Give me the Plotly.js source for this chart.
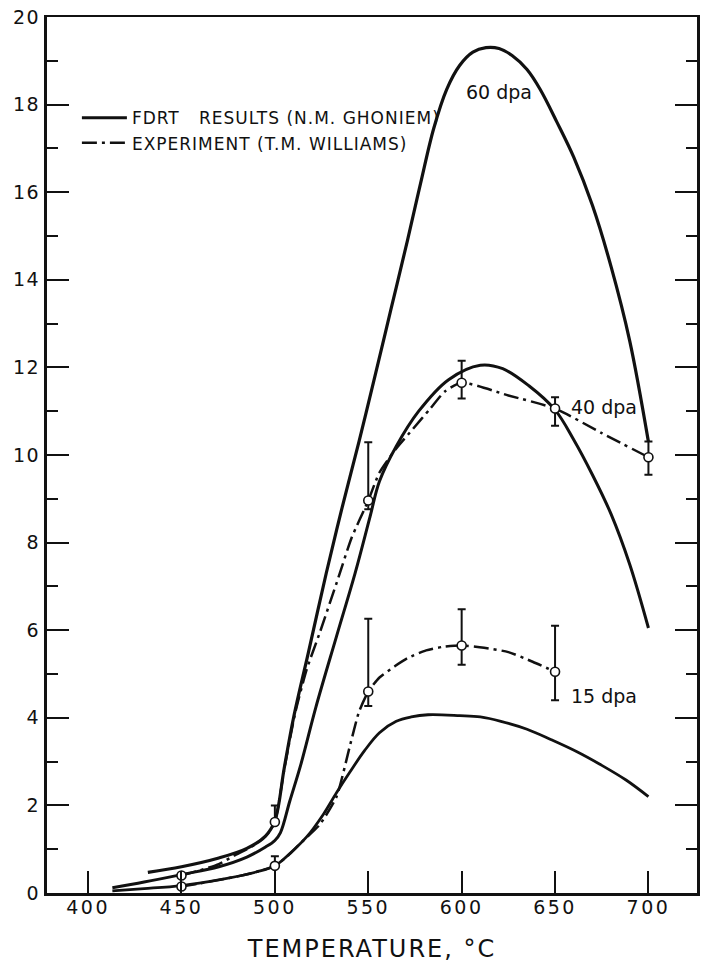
<!DOCTYPE html>
<html>
<head>
<meta charset="utf-8">
<script src="https://cdn.plot.ly/plotly-3.0.1.min.js"></script>
<style>
html,body{margin:0;padding:0;background:#ffffff;}
#chart{width:711px;height:974px;}
.xtick text{letter-spacing:2.5px;}
.ytick text{letter-spacing:1.5px;}
.legendtext{letter-spacing:1px;}
.xtitle{letter-spacing:2px;}
</style>
</head>
<body>
<div id="chart"></div>
<script>
// ---- FDRT results (solid curves), temperature in °C ----
const fdrtT60 = [432,450,470,485,495,500,505,510,518,527.5,536,545,553,562,571,578,585,592,599,606,613,620,627,635,642,651,660,670,680,690,700];
const fdrtV60 = [0.47,0.6,0.8,1.02,1.3,1.65,2.85,4.0,5.5,7.3,8.8,10.3,11.7,13.3,14.9,16.2,17.45,18.35,18.9,19.2,19.3,19.28,19.12,18.8,18.35,17.6,16.8,15.7,14.3,12.6,10.3];

const fdrtT40 = [413,430,450,470,485,495,500,503,508,514,522,533,543,551,556,565,577,593,610,622,636,650,660,670,680,690,700];
const fdrtV40 = [0.12,0.25,0.42,0.6,0.82,1.05,1.2,1.38,2.1,2.95,4.25,5.86,7.31,8.6,9.4,10.2,11.0,11.72,12.05,11.97,11.58,11.03,10.35,9.55,8.65,7.5,6.05];

const fdrtT15 = [413,430,450,470,490,500,508,517,526,533,540,548,556,565,573,582,599,610,621,635,648,662,674,688,700];
const fdrtV15 = [0.05,0.1,0.17,0.3,0.48,0.62,0.9,1.28,1.8,2.29,2.75,3.25,3.66,3.92,4.02,4.07,4.05,4.02,3.92,3.74,3.5,3.22,2.94,2.58,2.2];

// ---- Experiment (dash-dot curves through the measurements) ----
const expLineT40 = [450,460,470,478,490,497,500,505.5,511,517,524,534,541,550,556,565,574,583,591,600,625,650,675,700];
const expLineV40 = [0.4,0.52,0.66,0.85,1.12,1.4,1.62,2.94,4.13,5.1,5.94,7.2,8.1,8.96,9.6,10.15,10.6,11.05,11.45,11.65,11.36,11.06,10.5,9.95];

const expLineT15 = [450,460,470,480,490,500,507,514,524,533,540,545,550,556,564,571,581,590,600,612,625,638,650];
const expLineV15 = [0.15,0.22,0.3,0.38,0.48,0.62,0.85,1.15,1.56,2.2,3.33,4.13,4.6,4.92,5.17,5.36,5.54,5.62,5.65,5.6,5.5,5.28,5.05];

// ---- Measured points with error bars ----
const expT40 = [450,500,550,600,650,700];
const expV40 = [0.4,1.62,8.96,11.65,11.06,9.95];
const errPlus40 = [0,0.38,1.33,0.5,0.26,0.36];
const errMinus40 = [0,0,0.2,0.36,0.39,0.4];

const expT15 = [450,500,550,600,650];
const expV15 = [0.15,0.62,4.6,5.65,5.05];
const errPlus15 = [0,0.22,1.66,0.83,1.05];
const errMinus15 = [0,0,0.33,0.44,0.65];

// ---- Text ----
const legendFDRT = "FDRT\u00a0\u00a0 RESULTS (N.M. GHONIEM)";
const legendExp = "EXPERIMENT (T.M. WILLIAMS)";
const curveLabels = ["60 dpa","40 dpa","15 dpa"];
const curveLabelX = [620,676,676];
const curveLabelY = [18.28,11.1,4.5];
const xTickVals = [400,450,500,550,600,650,700];
const xTitle = "TEMPERATURE, \u00b0C";

const ink = "#111111";
const dashDot = "15px,5px,3px,5px";

const solid = (w) => ({color: ink, width: w, shape: "spline", smoothing: 1});
const dashed = {color: ink, width: 2.5, dash: dashDot, shape: "spline", smoothing: 0.6};
const marker = {symbol: "circle", size: 9, color: "#ffffff", line: {color: ink, width: 1.6}};
const err = (p, m) => ({type: "data", symmetric: false, array: p, arrayminus: m, color: ink, thickness: 2, width: 4});

const traces = [
  {x: fdrtT60, y: fdrtV60, mode: "lines", line: solid(3.2), name: legendFDRT, showlegend: true, legendrank: 1, hoverinfo: "skip"},
  {x: fdrtT40, y: fdrtV40, mode: "lines", line: solid(3), name: legendFDRT, showlegend: false, hoverinfo: "skip"},
  {x: fdrtT15, y: fdrtV15, mode: "lines", line: solid(2.8), name: legendFDRT, showlegend: false, hoverinfo: "skip"},
  {x: expLineT40, y: expLineV40, mode: "lines", line: dashed, name: legendExp, showlegend: true, legendrank: 2, hoverinfo: "skip"},
  {x: expLineT15, y: expLineV15, mode: "lines", line: dashed, name: legendExp, showlegend: false, hoverinfo: "skip"},
  {x: expT40, y: expV40, mode: "markers", marker: marker, error_y: err(errPlus40, errMinus40), showlegend: false, hoverinfo: "skip"},
  {x: expT15, y: expV15, mode: "markers", marker: marker, error_y: err(errPlus15, errMinus15), showlegend: false, hoverinfo: "skip"}
];

const annotations = curveLabels.map((t, i) => ({
  x: curveLabelX[i], y: curveLabelY[i], xref: "x", yref: "y", text: t,
  showarrow: false, xanchor: "center", yanchor: "middle",
  font: {family: "DejaVu Sans", size: 19, color: ink}
}));

const layout = {
  width: 711, height: 974,
  margin: {l: 47, r: 14, t: 17, b: 81},
  paper_bgcolor: "#ffffff", plot_bgcolor: "#ffffff",
  font: {family: "DejaVu Sans", color: ink, size: 18},
  showlegend: true,
  legend: {
    x: 0.046, xanchor: "left", y: 0.905, yanchor: "top",
    bgcolor: "rgba(0,0,0,0)", borderwidth: 0,
    font: {family: "DejaVu Sans", size: 17, color: ink},
    traceorder: "normal", itemwidth: 45
  },
  xaxis: {
    range: [378, 726], tickvals: xTickVals,
    ticks: "inside", ticklen: 22, tickwidth: 2, tickcolor: ink,
    showline: true, linewidth: 2.5, linecolor: ink, mirror: true,
    showgrid: false, zeroline: false, ticklabelstandoff: -4,
    tickfont: {family: "DejaVu Sans", size: 19, color: ink},
    title: {text: xTitle, font: {family: "DejaVu Sans", size: 24, color: ink}, standoff: 23}
  },
  yaxis: {
    range: [0, 20], dtick: 2, tick0: 0,
    ticks: "inside", ticklen: 22, tickwidth: 2, tickcolor: ink,
    minor: {dtick: 1, ticks: "inside", ticklen: 11, tickwidth: 2, tickcolor: ink, showgrid: false},
    showline: true, linewidth: 3, linecolor: ink, mirror: "ticks",
    showgrid: false, zeroline: false,
    tickfont: {family: "DejaVu Sans", size: 19, color: ink}
  },
  annotations: annotations
};

Plotly.newPlot("chart", traces, layout, {staticPlot: true, displayModeBar: false});
</script>
</body>
</html>
